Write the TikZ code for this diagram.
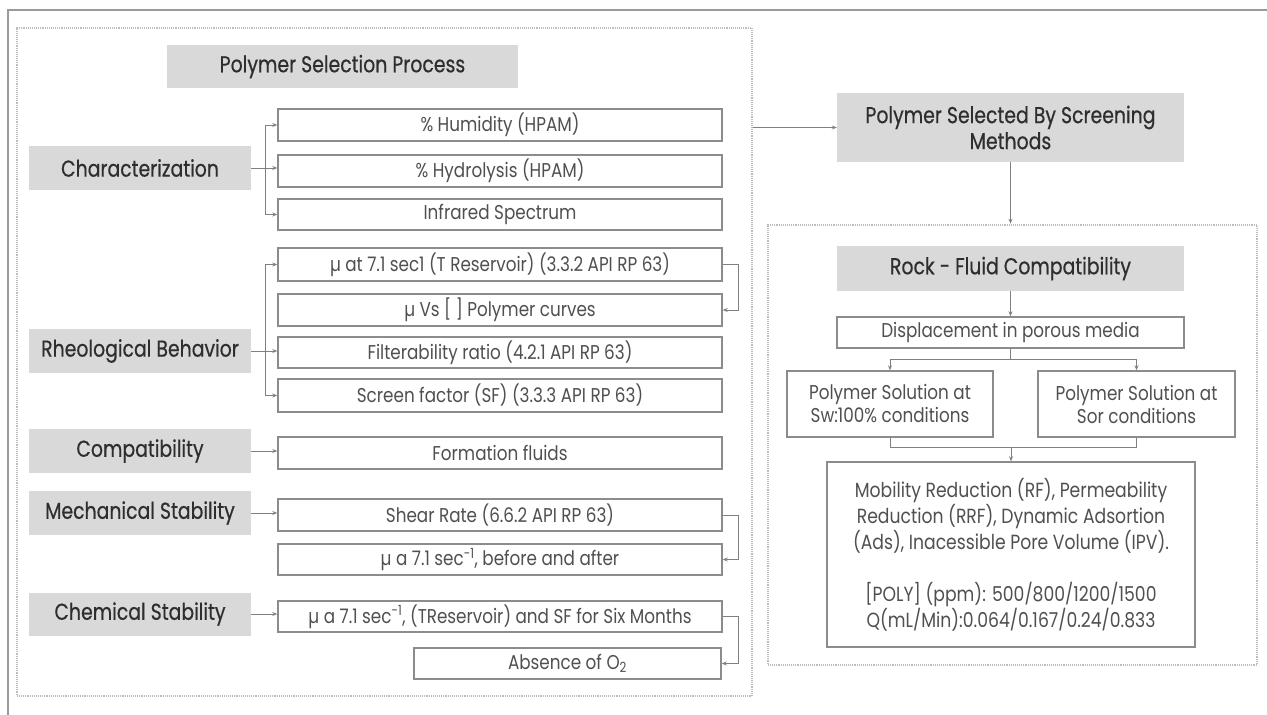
\documentclass[tikz,border=0pt]{standalone}
\usepackage{fontspec}
\usetikzlibrary{arrows.meta}
\newfontfamily\hdrfont[FakeStretch=0.82,FakeBold=0.5]{Poppins}
\newfontfamily\bodyfont[FakeStretch=0.84]{Poppins}
\definecolor{hdrfill}{HTML}{D9D9DA}
\definecolor{hdrtext}{HTML}{2E2E2E}
\definecolor{bodytext}{HTML}{505050}
\definecolor{boxline}{HTML}{8C8C8C}
\definecolor{conline}{HTML}{808080}
\definecolor{dotline}{HTML}{BDBDBD}
\definecolor{frameline}{HTML}{9A9A9A}
\begin{document}
\begin{tikzpicture}[x=1pt,y=-1pt,
  hdr/.style={fill=hdrfill, draw=none, text=hdrtext, inner sep=0pt,
    font=\hdrfont\fontsize{23}{26}\selectfont, align=center},
  bx/.style={draw=boxline, line width=1.4pt, fill=white, text=bodytext, inner sep=0pt,
    font=\bodyfont\fontsize{20}{23}\selectfont, align=center},
  frm/.style={draw=dotline, line width=2.6pt, dash pattern=on 0.7pt off 1.2pt, inner sep=0pt},
  ln/.style={draw=conline, line width=0.9pt},
  arr/.style={draw=conline, line width=0.9pt, -{Stealth[length=5pt,width=4pt]}}]
\useasboundingbox (0,0) rectangle (1267,715);
\fill[white] (0,0) rectangle (1267,715);
% outer solid frame (cropped)
\draw[draw=frameline, line width=1.6pt] (8,715) -- (8,10) -- (1267,10);
% dotted frames
\node[frm, minimum width=735, minimum height=668] (lframe) at (384.5,362) {};
\node[frm, minimum width=489, minimum height=440] (rframe) at (1012.5,445) {};
% left headers
\node[hdr, minimum width=351, minimum height=43] (psp) at (342.5,66.5) {Polymer Selection Process};
\node[hdr, minimum width=222, minimum height=44] (char) at (140,168) {Characterization};
\node[hdr, minimum width=222, minimum height=44] (rheo) at (140,351) {Rheological Behavior};
\node[hdr, minimum width=222, minimum height=44] (comp) at (140,451) {Compatibility};
\node[hdr, minimum width=222, minimum height=44] (mech) at (140,513) {Mechanical Stability};
\node[hdr, minimum width=222, minimum height=43] (chem) at (140,614) {Chemical Stability};
% left boxes
\node[bx, minimum width=444, minimum height=32] (hum) at (500,125) {\% Humidity (HPAM)};
\node[bx, minimum width=444, minimum height=32] (hyd) at (500,171) {\% Hydrolysis (HPAM)};
\node[bx, minimum width=444, minimum height=31] (ir) at (500,214.5) {Infrared Spectrum};
\node[bx, minimum width=444, minimum height=33] (mu1) at (500,264.5) {µ at 7.1 sec1 (T Reservoir) (3.3.2 API RP 63)};
\node[bx, minimum width=444, minimum height=32] (muvs) at (500,310) {µ Vs [ ] Polymer curves};
\node[bx, minimum width=444, minimum height=31] (filt) at (500,352.5) {Filterability ratio (4.2.1 API RP 63)};
\node[bx, minimum width=444, minimum height=33] (sf) at (500,395.5) {Screen factor (SF) (3.3.3 API RP 63)};
\node[bx, minimum width=444, minimum height=32] (form) at (500,453) {Formation fluids};
\node[bx, minimum width=444, minimum height=32] (shear) at (500,515) {Shear Rate (6.6.2 API RP 63)};
\node[bx, minimum width=444, minimum height=31] (mua) at (500,559.5) {µ a 7.1 sec\textsuperscript{-1}, before and after};
\node[bx, minimum width=444, minimum height=31] (musf) at (500,616.5) {µ a 7.1 sec\textsuperscript{-1}, (TReservoir) and SF for Six Months};
\node[bx, minimum width=307, minimum height=31] (abs) at (567.5,663.5) {Absence of O\textsubscript{2}};
% bracket coordinates
\coordinate (bL) at (265,0);
\coordinate (bR) at (738,0);
% characterization
\draw[arr] (char.east) -- (char.east -| hyd.west);
\draw[ln] (bL |- hum.west) -- (bL |- ir.west);
\draw[arr] (bL |- hum.west) -- (hum.west);
\draw[arr] (bL |- ir.west) -- (ir.west);
% rheological
\draw[arr] (rheo.east) -- (rheo.east -| filt.west);
\draw[ln] (bL |- mu1.west) -- (bL |- sf.west);
\draw[arr] (bL |- mu1.west) -- (mu1.west);
\draw[arr] (bL |- sf.west) -- (sf.west);
\draw[arr] (mu1.east) -- (bR |- mu1.east) -- (bR |- muvs.east) -- (muvs.east);
% compatibility, mechanical, chemical
\draw[arr] (comp.east) -- (comp.east -| form.west);
\draw[arr] (mech.east) -- (mech.east -| shear.west);
\draw[arr] (shear.east) -- (bR |- shear.east) -- (bR |- mua.east) -- (mua.east);
\draw[arr] (chem.east) -- (chem.east -| musf.west);
\draw[arr] (musf.east) -- (bR |- musf.east) -- (bR |- abs.east) -- (abs.east);
% right side
\node[hdr, minimum width=347, minimum height=69] (psm) at (1010.5,127.5) {Polymer Selected By Screening\\Methods};
\node[hdr, minimum width=347, minimum height=45] (rfc) at (1010.5,268.5) {Rock - Fluid Compatibility};
\node[bx, minimum width=347, minimum height=31] (disp) at (1010.5,332.5) {Displacement in porous media};
\node[bx, minimum width=206, minimum height=66] (sw) at (890,404) {Polymer Solution at\\Sw:100\% conditions};
\node[bx, minimum width=197, minimum height=66] (sor) at (1136.5,404) {Polymer Solution at\\Sor conditions};
\node[bx, minimum width=368, minimum height=185, font=\bodyfont\fontsize{20.5}{26}\selectfont] (mob) at (1011,554.5)
  {Mobility Reduction (RF), Permeability\\Reduction (RRF), Dynamic Adsortion\\(Ads), Inacessible Pore Volume (IPV).\\[26pt][POLY] (ppm): 500/800/1200/1500\\Q(mL/Min):0.064/0.167/0.24/0.833};
\draw[arr] (lframe.east |- psm.west) -- (psm.west);
\draw[arr] (psm.south) -- (psm.south |- rframe.north);
\draw[arr] (rfc.south) -- (disp.north);
\coordinate (j1) at (0,359);
\coordinate (j2) at (0,447);
\draw[ln] (disp.south) -- (disp.south |- j1);
\draw[ln] (sw.north |- j1) -- (sor.north |- j1);
\draw[arr] (sw.north |- j1) -- (sw.north);
\draw[arr] (sor.north |- j1) -- (sor.north);
\draw[ln] (sw.south) -- (sw.south |- j2) -- (sor.south |- j2) -- (sor.south);
\draw[arr] (mob.north |- j2) -- (mob.north);
\end{tikzpicture}
\end{document}
